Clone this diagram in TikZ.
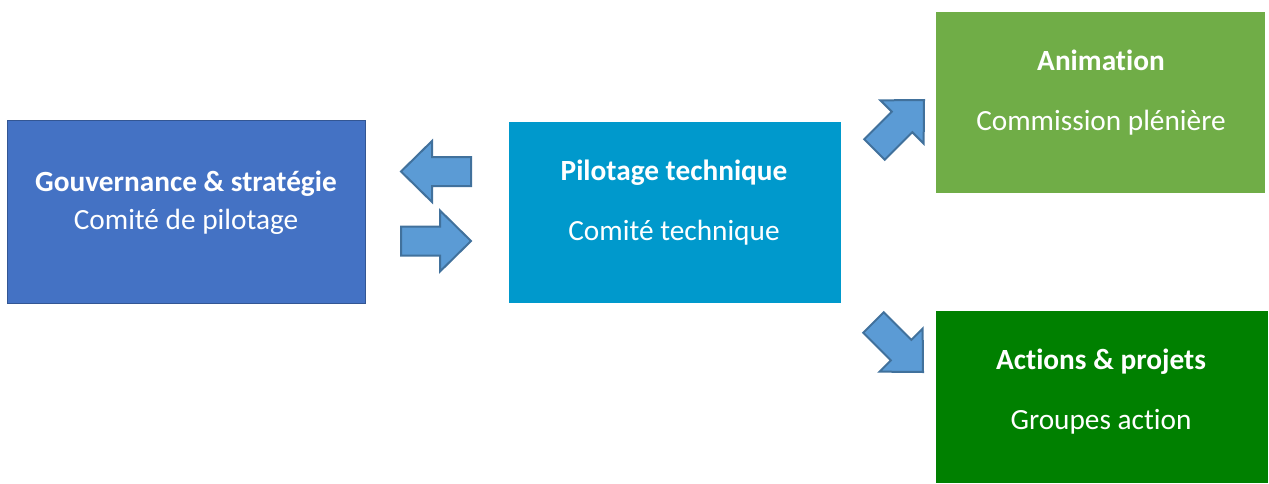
\documentclass[tikz,border=0pt]{standalone}
\usepackage{fontspec}
\setmainfont{Carlito}[Ligatures=NoCommon]
\begin{document}
\begin{tikzpicture}[x=1pt,y=-1pt,
  box/.style={draw=#1!75!black, line width=1pt, fill=#1, inner sep=0pt, anchor=north west},
  title/.style={text=white, font=\fontsize{29.3}{34}\selectfont\bfseries, anchor=base, inner sep=0pt},
  sub/.style={text=white, font=\fontsize{29.3}{34}\selectfont, anchor=base, inner sep=0pt},
  blockarrow/.style={draw=arrowline, line width=2pt, fill=arrowfill, line join=miter}]
\definecolor{govblue}{HTML}{4472C4}
\definecolor{techcyan}{HTML}{0099CC}
\definecolor{animgreen}{HTML}{70AD47}
\definecolor{actgreen}{HTML}{008000}
\definecolor{arrowfill}{HTML}{5B9BD5}
\definecolor{arrowline}{HTML}{41719C}
\useasboundingbox (0,0) rectangle (1269,483);

% boxes
\node[box=govblue, minimum width=358pt, minimum height=183pt] (gov) at (7,120) {};
\node[box=techcyan, draw=none, minimum width=332pt, minimum height=181pt] (tech) at (508,121) {};
\node[box=animgreen, draw=none, minimum width=329pt, minimum height=181pt] (anim) at (935,11) {};
\node[box=actgreen, draw=none, minimum width=332pt, minimum height=172pt] (act) at (935,310) {};

% texts
\node[title] (govT) at (186,191) {Gouvernance \& stratégie};
\node[sub]   (govS) at (186,229) {Comité de pilotage};
\node[title] (techT) at (674,180) {Pilotage technique};
\node[sub]   (techS) at (674,240) {Comité technique};
\node[title] (animT) at (1101,70) {Animation};
\node[sub]   (animS) at (1101,130) {Commission plénière};
\node[title] (actT) at (1101,369) {Actions \& projets};
\node[sub]   (actS) at (1101,429) {Groupes action};

% block arrows: tail centre at origin, pointing along +x
\def\blk{(0,-14.5) -- (39,-14.5) -- (39,-30.5) -- (70,0) -- (39,30.5) -- (39,14.5) -- (0,14.5) -- cycle}
\draw[blockarrow, shift={(471,171.5)}, rotate=180] \blk;
\draw[blockarrow, shift={(401,241)}] \blk;
\draw[blockarrow, shift={(874.5,149.5)}, rotate=45] \blk;
\draw[blockarrow, shift={(873.5,322.5)}, rotate=-45] \blk;
\end{tikzpicture}
\end{document}
